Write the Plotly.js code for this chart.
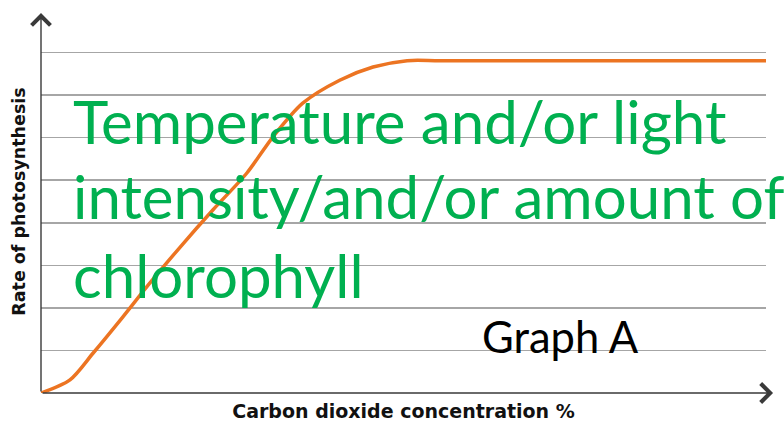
<!DOCTYPE html>
<html>
<head>
<meta charset="utf-8">
<script src="https://cdn.plot.ly/plotly-3.0.1.min.js"></script>
<style>html,body{margin:0;padding:0;background:#fff;}#chart{width:784px;height:425px;}</style>
</head>
<body>
<div id="chart"></div>
<script>
// Curve (x: CO2 concentration, y: rate of photosynthesis)
const co2Values  = [0, 0.40, 0.72, 1.13, 1.50, 1.92, 2.37, 2.84, 3.20, 3.61, 4.12, 4.58, 5.05, 5.50, 7.00, 8.50, 10.0];
const rateValues = [0, 0.31, 0.94, 1.79, 2.58, 3.43, 4.30, 5.17, 6.02, 6.81, 7.35, 7.66, 7.81, 7.81, 7.81, 7.81, 7.81];

const xTitle = "Carbon dioxide concentration %";
const yTitle = "Rate of photosynthesis";
const noteLines = ["Temperature and/or light", "intensity/and/or amount of", "chlorophyll"];
const graphLabel = "Graph A";

const trace = {
  x: co2Values, y: rateValues, type: "scatter", mode: "lines",
  line: {color: "#ec7422", width: 3.5, shape: "spline", smoothing: 0.8},
  cliponaxis: false, hoverinfo: "skip", showlegend: false
};

const noteBaselines = [0.612, 0.415, 0.21];
const annotations = [];
noteLines.forEach((t, i) => {
  annotations.push({
    xref: "paper", yref: "paper", x: 0.042, y: noteBaselines[i],
    xanchor: "left", yanchor: "bottom", showarrow: false, text: t,
    font: {family: "Lato", size: 60, color: "#00b050"}
  });
});
annotations.push({
  xref: "paper", yref: "paper", x: 0.605, y: 0.075,
  xanchor: "left", yanchor: "bottom", showarrow: false, text: graphLabel,
  font: {family: "Lato", size: 43.5, color: "#000000"}
});
// axis arrows
annotations.push({
  xref: "paper", yref: "paper", x: 0, y: 0.9922, ax: 0, ay: 380,
  text: "", showarrow: true, arrowhead: 4, arrowsize: 2.6, arrowwidth: 1.4,
  arrowcolor: "#3a3a3a", standoff: 0
});
annotations.push({
  xref: "paper", yref: "paper", x: 1.0097, y: 0, ax: -732, ay: 0,
  text: "", showarrow: true, arrowhead: 4, arrowsize: 2.6, arrowwidth: 1.4,
  arrowcolor: "#3a3a3a", standoff: 0
});

const layout = {
  width: 784, height: 425,
  margin: {l: 41, r: 18, t: 10, b: 32, pad: 0},
  paper_bgcolor: "#ffffff", plot_bgcolor: "#ffffff",
  xaxis: {
    range: [0, 10], showgrid: false, zeroline: false, showline: false,
    showticklabels: false, ticks: "", fixedrange: true,
    title: {text: xTitle, standoff: 11, font: {family: "DejaVu Sans", size: 19, color: "#111111", weight: "bold"}}
  },
  yaxis: {
    range: [0, 9], dtick: 1, tick0: 0, showgrid: true, gridcolor: "#a6a6a6", gridwidth: 1.6,
    zeroline: false, showline: false, showticklabels: false, ticks: "", fixedrange: true,
    title: {text: yTitle, standoff: 9, font: {family: "DejaVu Sans", size: 17.5, color: "#111111", weight: "bold"}}
  },
  annotations: annotations,
  showlegend: false
};

Plotly.newPlot("chart", [trace], layout, {displayModeBar: false, staticPlot: true});
</script>
</body>
</html>
